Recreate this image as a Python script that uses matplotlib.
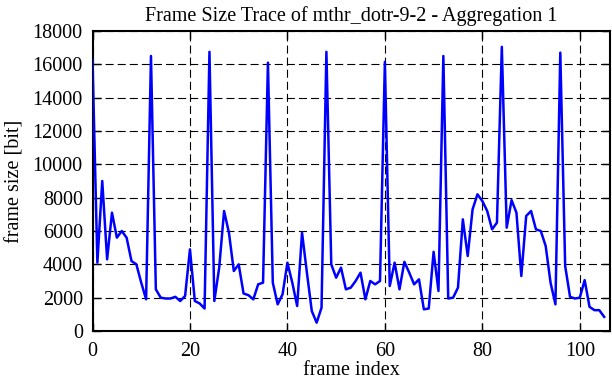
import matplotlib
matplotlib.use("Agg")
import matplotlib.pyplot as plt

frame_size = [16300, 4100, 9000, 4300, 7100, 5600, 6000, 5600, 4200, 4000,
              2900, 1900, 16500, 2500, 2000, 1950, 1950, 2050, 1800, 2100,
              4900, 1800, 1650, 1350, 16750, 1800, 3800, 7200, 5900, 3600,
              4000, 2250, 2150, 1900, 2800, 2900, 16100, 2900, 1600, 2200,
              4100, 2900, 1500, 5900, 3500, 1200, 500, 1400, 16750, 4000,
              3200, 3800, 2500, 2600, 3000, 3500, 1900, 3000, 2800, 3000,
              16150, 2700, 4100, 2500, 4150, 3500, 2800, 3100, 1300, 1350,
              4750, 2400, 16500, 1950, 2000, 2600, 6700, 4500, 7300, 8200,
              7800, 7200, 6100, 6500, 17050, 6200, 7850, 7100, 3300, 6900,
              7200, 6100, 6000, 5100, 2900, 1600, 16700, 3900, 2050, 1950,
              2000, 3050, 1450, 1250, 1250, 850]
frame_index = list(range(len(frame_size)))

x_ticks = [0, 20, 40, 60, 80, 100]
y_ticks = [0, 2000, 4000, 6000, 8000, 10000, 12000, 14000, 16000, 18000]

plt.rcParams['font.family'] = ['Liberation Serif', 'DejaVu Serif']
plt.rcParams['lines.scale_dashes'] = False

fig = plt.figure(figsize=(6.12, 3.82), dpi=100)
ax = fig.add_axes([92.5/612, 1-331/382, (610-92.5)/612, 300/382])

ax.plot(frame_index, frame_size, color='#0000ff', linewidth=1.8, zorder=3)

ax.set_xlim(0, 106.2)
ax.set_ylim(0, 18000)
ax.set_xticks(x_ticks)
ax.set_yticks(y_ticks)
ax.grid(True, color='black', linestyle=(0, (5.8, 2.9)), linewidth=0.8)
ax.tick_params(direction='in', length=6, width=1, top=True, right=True,
               labelsize=14.5, colors='black')
ax.tick_params(axis='y', pad=7)
ax.tick_params(axis='x', pad=8)
for s in ax.spines.values():
    s.set_linewidth(1.5)

ax.set_title('Frame Size Trace of mthr_dotr-9-2 - Aggregation 1', fontsize=14.5, pad=7)
ax.set_xlabel('frame index', fontsize=14.5, labelpad=0)
ax.set_ylabel('frame size [bit]', fontsize=14.5, labelpad=6)

fig.savefig('out.png', dpi=100)
